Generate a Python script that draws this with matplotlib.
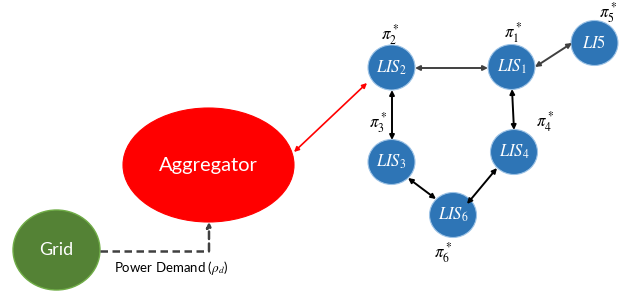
import matplotlib
matplotlib.use("Agg")
import matplotlib.pyplot as plt
from matplotlib.patches import Ellipse, FancyArrowPatch

plt.rcParams['mathtext.fontset'] = 'stix'

# Node data: name, label, center x, center y, rx, ry
lis_names = ["LIS1", "LIS2", "LIS3", "LIS4", "LIS5", "LIS6"]
lis_labels = [r"$LIS_1$", r"$LIS_2$", r"$LIS_3$", r"$LIS_4$", r"$LI5$", r"$LIS_6$"]
lis_x = [511.5, 391.5, 391.5, 514, 594.5, 453]
lis_y = [67, 67.5, 162, 152, 43, 215]
pi_labels = [r"$\pi_1^*$", r"$\pi_2^*$", r"$\pi_3^*$", r"$\pi_4^*$", r"$\pi_5^*$", r"$\pi_6^*$"]
pi_x = [513, 390, 378, 545, 608, 443]
pi_y = [33, 35, 123, 122, 13, 253]

links = [  # (x0, y0, x1, y1, colour)
    (415, 68, 488, 68, "#404040"),
    (535, 67, 572, 43, "#404040"),
    (392, 90, 392, 140, "black"),
    (512, 89, 514, 130, "black"),
    (408, 178, 436, 199, "black"),
    (467, 204, 497, 168, "black"),
]

fig = plt.figure(figsize=(6.36, 2.95), dpi=100)
ax = fig.add_axes([0, 0, 1, 1])
ax.set_xlim(0, 636)
ax.set_ylim(295, 0)
ax.axis("off")

# Aggregator
ax.add_patch(Ellipse((208.5, 165), 171, 114, facecolor="#FF0000", edgecolor="#FF0000", lw=0.8))
ax.text(208.5, 166, "Aggregator", color="white", fontsize=14.5, family="Lato", ha="center", va="center")

# Grid
ax.add_patch(Ellipse((56.5, 250), 87, 80, facecolor="#548235", edgecolor="#70AD47", lw=1))
ax.text(56.5, 250, "Grid", color="white", fontsize=13, family="Lato", ha="center", va="center")

# LIS nodes
for lab, x, y in zip(lis_labels, lis_x, lis_y):
    ax.add_patch(Ellipse((x, y), 47, 45, facecolor="#2E75B6", edgecolor="#9DC3E6", lw=0.8))
    ax.text(x, y, lab, color="white", fontsize=12, ha="center", va="center")

for lab, x, y in zip(pi_labels, pi_x, pi_y):
    ax.text(x, y, lab, color="black", fontsize=12, ha="center", va="center")

# Links
for x0, y0, x1, y1, c in links:
    ax.add_patch(FancyArrowPatch((x0, y0), (x1, y1), arrowstyle="<|-|>", mutation_scale=7,
                                 color=c, lw=1.4, shrinkA=0, shrinkB=0))

# Red link aggregator <-> LIS2
ax.add_patch(FancyArrowPatch((294, 152), (367, 83), arrowstyle="<|-|>", mutation_scale=7,
                             color="#FF0000", lw=1.2, shrinkA=0, shrinkB=0))

# Dashed power demand
ax.plot([100, 209], [251, 251], color="#404040", lw=1.8, ls=(0, (3, 1.8)))
ax.add_patch(FancyArrowPatch((209, 251), (209, 222), arrowstyle="-|>", mutation_scale=7,
                             color="#404040", lw=1.8, ls=(0, (3, 1.8)), shrinkA=0, shrinkB=0))
ax.text(171, 268, r"Power Demand ($\rho_d$)", fontsize=9.5, family="Lato", ha="center", va="center")

fig.savefig("out.png", dpi=100)
